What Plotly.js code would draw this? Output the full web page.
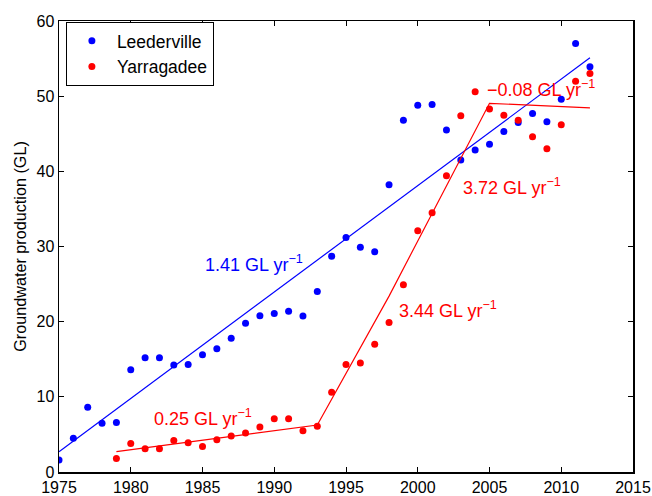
<!DOCTYPE html>
<html>
<head>
<meta charset="utf-8">
<script src="https://cdn.plot.ly/plotly-3.0.1.min.js"></script>
<style>html,body{margin:0;padding:0;background:#fff;}#chart{width:652px;height:496px;}</style>
</head>
<body>
<div id="chart"></div>
<script>
// Leederville aquifer (blue)
var leedYears = [1975,1976,1977,1978,1979,1980,1981,1982,1983,1984,1985,1986,1987,1988,1989,1990,1991,1992,1993,1994,1995,1996,1997,1998,1999,2000,2001,2002,2003,2004,2005,2006,2007,2008,2009,2010,2011,2012];
var leedValues = [1.6,4.5,8.6,6.5,6.6,13.6,15.2,15.2,14.25,14.3,15.6,16.4,17.8,19.8,20.8,21.1,21.4,20.75,24.0,28.7,31.2,29.9,29.3,38.2,46.8,48.8,48.9,45.5,41.5,42.85,43.6,45.3,46.5,47.7,46.6,49.6,57.0,53.9];
// Yarragadee aquifer (red)
var yarrYears = [1979,1980,1981,1982,1983,1984,1985,1986,1987,1988,1989,1990,1991,1992,1993,1994,1995,1996,1997,1998,1999,2000,2001,2002,2003,2004,2005,2006,2007,2008,2009,2010,2011,2012];
var yarrValues = [1.8,3.8,3.1,3.1,4.2,3.9,3.4,4.3,4.8,5.2,6.0,7.1,7.1,5.5,6.1,10.6,14.3,14.5,17.0,19.9,24.9,32.1,34.5,39.4,47.4,50.6,48.3,47.45,46.8,44.6,43.0,46.2,52.0,53.0];
// Trend lines (end points)
var leedTrendX = [1975, 2012];
var leedTrendY = [2.7, 55.1];
var yarrTrendX = [1979, 1993, 1998, 2005, 2012];
var yarrTrendY = [2.7, 6.25, 23.4, 49.05, 48.45];
// Slope labels
var labelText = ['1.41 GL yr<sup>−1</sup>','0.25 GL yr<sup>−1</sup>','3.44 GL yr<sup>−1</sup>','3.72 GL yr<sup>−1</sup>','−0.08 GL yr<sup>−1</sup>'];
var labelX = [1985.0, 1981.5, 1998.55, 2003.0, 2004.7];
var labelY = [27.8, 7.3, 21.6, 37.95, 51.0];
var labelColor = ['#0000ff','#ff0000','#ff0000','#ff0000','#ff0000'];

var traces = [
  {x: leedYears, y: leedValues, mode: 'markers', type: 'scatter', name: 'Leederville',
   marker: {color: '#0000ff', size: 7}},
  {x: yarrYears, y: yarrValues, mode: 'markers', type: 'scatter', name: 'Yarragadee',
   marker: {color: '#ff0000', size: 7}},
  {x: leedTrendX, y: leedTrendY, mode: 'lines', type: 'scatter', showlegend: false,
   line: {color: '#0000ff', width: 1.2}},
  {x: yarrTrendX, y: yarrTrendY, mode: 'lines', type: 'scatter', showlegend: false,
   line: {color: '#ff0000', width: 1.2}}
];

var annotations = labelText.map(function(t, i){
  return {x: labelX[i], y: labelY[i], xref: 'x', yref: 'y', text: t, showarrow: false,
          xanchor: 'left', yanchor: 'middle', font: {color: labelColor[i], size: 18, family: 'Liberation Sans, Arial, sans-serif'}};
});

var axisCommon = {
  showline: true, linecolor: '#000', linewidth: 1.5, mirror: 'ticks',
  ticks: 'inside', ticklen: 5, tickwidth: 1, tickcolor: '#000',
  showgrid: false, zeroline: false, automargin: false,
  tickfont: {size: 16, color: '#000', family: 'Liberation Sans, Arial, sans-serif'}
};

var layout = {
  width: 652, height: 496,
  margin: {l: 59, r: 19, t: 21, b: 24},
  paper_bgcolor: '#fff', plot_bgcolor: '#fff',
  font: {family: 'Liberation Sans, Arial, sans-serif', color: '#000'},
  xaxis: Object.assign({}, axisCommon, {range: [1975, 2015], tickvals: [1975,1980,1985,1990,1995,2000,2005,2010,2015]}),
  yaxis: Object.assign({}, axisCommon, {range: [0, 60], tickvals: [0,10,20,30,40,50,60],
    title: {text: 'Groundwater production (GL)', font: {size: 16.2, color: '#000'}, standoff: 6}}),
  legend: {x: 0.012, y: 0.998, xanchor: 'left', yanchor: 'top', bgcolor: '#fff',
    bordercolor: '#000', borderwidth: 1, itemwidth: 40, tracegroupgap: 0,
    font: {size: 17.5, color: '#000'}},
  annotations: annotations,
  showlegend: true
};

Plotly.newPlot('chart', traces, layout, {displayModeBar: false, staticPlot: true});
</script>
</body>
</html>
